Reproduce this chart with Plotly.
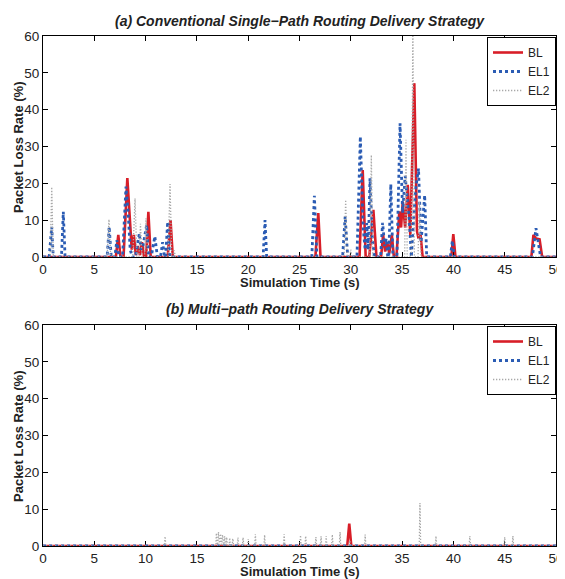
import plotly.graph_objects as go
from plotly.subplots import make_subplots

# ---------------- (a) Conventional single-path ----------------
a_bl_t = [0, 7.1, 7.34, 7.55, 7.85, 8.22, 8.45, 8.65, 8.85, 9.05, 9.25, 9.45, 9.65, 9.85,
          10.05, 10.27, 10.5, 12.15, 12.43, 12.65, 26.55, 26.83, 27.05, 30.85, 31.16, 31.45,
          31.8, 32.2, 32.5, 32.95, 33.15, 33.35, 33.55, 33.75, 34.0, 34.2, 34.45, 34.73, 34.9,
          35.06, 35.3, 35.55, 35.8, 36.19, 36.45, 36.6, 36.8, 37.0, 39.8, 39.99, 40.2,
          47.6, 47.8, 48.05, 48.4, 48.65, 50]
a_bl_v = [0, 0, 6, 0, 0, 21.4, 11, 2, 6, 0.5, 3, 0.5, 4, 0,
          0, 12.3, 0, 0, 10, 0, 0, 11.9, 0, 0, 23.6, 0,
          0, 12.8, 0, 0, 6, 1.5, 4, 1, 6, 0, 0, 12.4, 8,
          15, 8, 19.6, 6, 47.2, 7, 5, 6, 0, 0, 6.2, 0,
          0, 6, 5, 4.8, 0, 0]

a_el1_t = [0, 0.6, 0.85, 1.0, 1.8, 1.98, 2.15, 6.25, 6.45, 6.65, 7.0, 7.2, 7.4, 7.75, 8.09,
           8.3, 8.5, 8.7, 9.0, 9.39, 9.55, 9.75, 10.1, 10.3, 10.55, 10.9, 11.15, 11.45, 11.66,
           11.85, 11.95, 12.15, 12.35, 21.45, 21.64, 21.8, 26.2, 26.45, 26.7, 29.2, 29.45,
           29.7, 30.6, 30.93, 31.2, 31.4, 31.55, 31.7, 31.87, 32.1, 32.3, 32.9, 33.1, 33.3,
           33.45, 33.6, 33.7, 33.9, 34.1, 34.5, 34.8, 35.05, 35.3, 35.5, 35.7, 35.9, 36.0,
           36.3, 36.6, 36.85, 37.2, 37.4, 39.7, 39.9, 40.1, 47.7, 48.05, 48.3, 48.5, 50]
a_el1_v = [0, 0, 8.2, 0, 0, 12.3, 0, 0, 8.2, 0, 0, 4.6, 0, 0, 19.1,
           12, 2, 0, 0, 6.4, 2, 3, 8.7, 0, 0, 5.6, 0, 0, 4,
           0, 0, 9.5, 0, 0, 10, 0, 0, 16.6, 0, 0, 11,
           0, 0, 32.7, 8, 2, 9.2, 2, 21.4, 5, 0, 0, 9.3, 3,
           5, 0, 0, 19.8, 0, 0, 36.3, 12, 22, 16, 10, 0, 5,
           18, 24, 4, 16.8, 0, 0, 4.4, 0, 0, 7.8, 3, 0, 0]

a_el2_t = [0, 0.7, 0.85, 1.0, 6.25, 6.43, 6.6, 8.75, 8.97, 9.15, 9.35, 9.5, 9.65, 9.9,
           10.04, 10.2, 12.2, 12.38, 12.55, 12.7, 12.8, 12.9, 29.35, 29.5, 29.65, 29.9,
           30.0, 30.1, 31.85, 32.0, 32.15, 35.25, 35.38, 35.5, 35.9, 36.05, 36.2, 36.55,
           36.7, 36.85, 50]
a_el2_v = [0, 0, 19, 0, 0, 10.2, 0, 0, 15.9, 0, 0, 9, 0, 0,
           10.5, 0, 0, 19.8, 0, 0, 1.8, 0, 0, 15.5, 0, 0,
           2, 0, 0, 27.7, 0, 0, 31.8, 0, 0, 62, 0, 0,
           15, 0, 0]

# ---------------- (b) Multi-path ----------------
b_bl_t = [0, 29.65, 29.85, 30.05, 50]
b_bl_v = [0, 0, 6.1, 0, 0]

b_el1_t = [0, 50]
b_el1_v = [0, 0]

b_el2_t = [0, 11.83, 11.9, 11.97, 16.83, 16.9, 16.97, 17.03, 17.1, 17.17, 17.23, 17.3, 17.37,
           17.43, 17.5, 17.57, 17.63, 17.7, 17.77, 17.83, 17.9, 17.97, 18.13, 18.2, 18.27,
           18.43, 18.5, 18.57, 18.93, 19.0, 19.07, 19.43, 19.5, 19.57, 19.93, 20.0, 20.07,
           20.63, 20.7, 20.77, 21.53, 21.6, 21.67, 23.43, 23.5, 23.57, 25.03, 25.1, 25.17,
           25.53, 25.6, 25.67, 26.53, 26.6, 26.67, 27.03, 27.1, 27.17, 27.53, 27.6, 27.67,
           28.13, 28.2, 28.27, 28.88, 28.95, 29.02, 29.83, 29.9, 29.97, 31.33, 31.4, 31.47,
           36.67, 36.74, 36.81, 38.23, 38.3, 38.37, 41.53, 41.6, 41.67, 44.93, 45.0, 45.07,
           45.73, 45.8, 45.87, 50]
b_el2_v = [0, 0, 2.6, 0, 0, 3.5, 0, 0, 3.8, 0, 0, 3.3, 0,
           0, 3.0, 0, 0, 2.6, 0, 0, 2.4, 0, 0, 2.2, 0,
           0, 2.0, 0, 0, 2.3, 0, 0, 2.3, 0, 0, 1.8, 0,
           0, 3.2, 0, 0, 3.0, 0, 0, 3.2, 0, 0, 2.9, 0,
           0, 2.7, 0, 0, 2.4, 0, 0, 2.6, 0, 0, 2.7, 0,
           0, 3.1, 0, 0, 3.8, 0, 0, 1.5, 0, 0, 3.1, 0,
           0, 11.7, 0, 0, 2.7, 0, 0, 2.7, 0, 0, 2.4, 0,
           0, 2.7, 0, 0]

x_ticks = [0, 5, 10, 15, 20, 25, 30, 35, 40, 45, 50]
y_ticks = [0, 10, 20, 30, 40, 50, 60]
series_names = ["BL", "EL1", "EL2"]

RED = "#d81e28"
BLUE = "#2b5cb4"
GRAY = "#a8a8a8"
FONT = "Liberation Sans, Arial, sans-serif"

# page offset of the figure inside the browser page (default body margin)
OFF = 8
W, H = 565 - OFF, 579 - OFF
# plot-area edges in page pixels
LEFT, RIGHT, TOP, BOTTOM = 43, 556, 36, 548
ML, MR, MT, MB = LEFT - OFF, W - (RIGHT - OFF), TOP - OFF, H - (BOTTOM - OFF)
PW = W - ML - MR
PH = H - MT - MB


def py(pix):
    """page pixel row -> paper y"""
    return (BOTTOM - pix) / PH


def px(pix):
    """page pixel column -> paper x"""
    return (pix - LEFT) / PW


fig = make_subplots(rows=2, cols=1, vertical_spacing=70 / PH)

styles = [dict(color=RED, width=2.6, dash="solid"),
          dict(color=BLUE, width=2.8, dash="dot"),
          dict(color=GRAY, width=1.3, dash="1.3px,1.7px")]

top = [(a_bl_t, a_bl_v), (a_el1_t, a_el1_v), (a_el2_t, a_el2_v)]
bot = [(b_bl_t, b_bl_v), (b_el1_t, b_el1_v), (b_el2_t, b_el2_v)]

for i, (t, v) in enumerate(top):
    fig.add_trace(go.Scatter(x=t, y=v, mode="lines", name=series_names[i],
                             line=styles[i], legend="legend"), row=1, col=1)
for i, (t, v) in enumerate(bot):
    fig.add_trace(go.Scatter(x=t, y=v, mode="lines", name=series_names[i],
                             line=styles[i], legend="legend2"), row=2, col=1)

axis_common = dict(showline=True, linecolor="black", linewidth=1, mirror="ticks",
                   ticks="inside", ticklen=5, tickcolor="black", showgrid=False,
                   zeroline=False, layer="below traces", automargin=False,
                   tickfont=dict(family=FONT, size=13.5, color="#222"))

for r in (1, 2):
    fig.update_xaxes(range=[0, 50], tickvals=x_ticks, row=r, col=1, **axis_common)
    fig.update_yaxes(range=[0, 60], tickvals=y_ticks, row=r, col=1, **axis_common)

# panel positions (page pixels)
fig.update_yaxes(domain=[py(257), py(36)], row=1, col=1)
fig.update_yaxes(domain=[py(546), py(325)], row=2, col=1)

legend_common = dict(bordercolor="black", borderwidth=1, bgcolor="white",
                     font=dict(family=FONT, size=12, color="#222"),
                     xanchor="right", x=1, yanchor="top", itemwidth=30,
                     tracegroupgap=0)

fig.update_layout(
    width=W, height=H,
    margin=dict(l=ML, r=MR, t=MT, b=MB, autoexpand=False),
    plot_bgcolor="white", paper_bgcolor="white",
    showlegend=True,
    legend=dict(y=py(37), **legend_common),
    legend2=dict(y=py(326), **legend_common),
)

ann_font = dict(family=FONT, size=13, color="#222")
title_font = dict(family=FONT, size=14, color="#222")
annotations = [
    dict(text="<b><i>(a) Conventional Single\u2212Path Routing Delivery Strategy</i></b>",
         x=0.5, y=py(21), font=title_font),
    dict(text="<b><i>(b) Multi\u2212path Routing Delivery Strategy</i></b>",
         x=0.5, y=py(309), font=title_font),
    dict(text="<b>Simulation Time (s)</b>", x=0.5, y=py(282.5), font=ann_font),
    dict(text="<b>Simulation Time (s)</b>", x=0.5, y=py(571.5), font=ann_font),
    dict(text="<b>Packet Loss Rate (%)</b>", x=px(18), y=py(147), textangle=-90,
         font=ann_font),
    dict(text="<b>Packet Loss Rate (%)</b>", x=px(18), y=py(436), textangle=-90,
         font=ann_font),
]
for a in annotations:
    a.update(xref="paper", yref="paper", showarrow=False,
             xanchor="center", yanchor="middle")
fig.update_layout(annotations=annotations)

fig.write_html("out.html")
